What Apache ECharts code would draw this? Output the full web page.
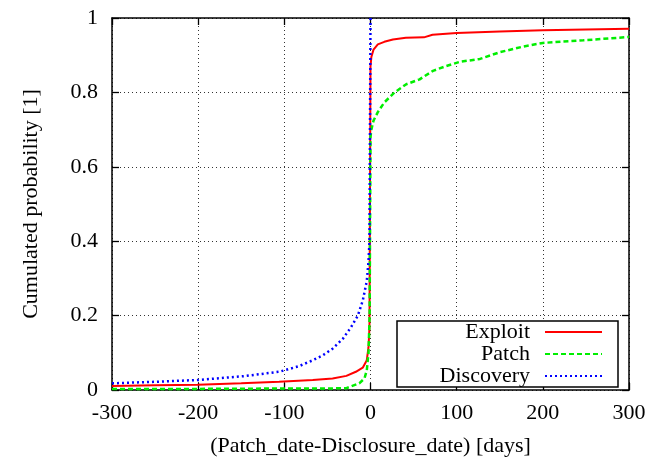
<!DOCTYPE html>
<html>
<head>
<meta charset="utf-8">
<script src="https://cdn.jsdelivr.net/npm/echarts@6/dist/echarts.min.js"></script>
<style>
html,body{margin:0;padding:0;background:#fff;}
#chart{width:650px;height:462px;}
</style>
</head>
<body>
<div id="chart"></div>
<script>
const xTicks = [-300, -200, -100, 0, 100, 200, 300];
const yTicks = [0, 0.2, 0.4, 0.6, 0.8, 1];

const exploitX = [-300,-250,-200,-150,-106,-67,-44,-28,-17,-9,-4.3,-2.3,-1.2,0,1,3.5,8.5,16,26,41,62,72,100,150,200,250,300];
const exploitY = [0.011,0.013,0.014,0.018,0.022,0.027,0.031,0.038,0.049,0.06,0.08,0.115,0.169,0.87,0.895,0.915,0.929,0.936,0.942,0.947,0.948,0.955,0.96,0.964,0.967,0.969,0.971];

const patchX = [-300,-200,-100,-50,-28,-13,-7,-4.3,-2.3,-1,0,1,3.5,8.5,16,28,41.5,57,72.5,88,103.5,127,150,177,200,247,300];
const patchY = [0.003,0.003,0.004,0.004,0.005,0.018,0.031,0.053,0.1,0.2,0.68,0.70,0.724,0.747,0.773,0.8,0.822,0.835,0.858,0.871,0.882,0.89,0.908,0.923,0.933,0.94,0.949];

const discX = [-300,-250,-200,-148,-106,-83,-67,-55.5,-44,-32,-22.5,-14.7,-9,-4.3,-2.3,-1.2,0];
const discY = [0.018,0.022,0.027,0.037,0.049,0.064,0.08,0.093,0.111,0.138,0.169,0.2,0.24,0.293,0.347,0.4,1.0];

const seriesNames = ['Exploit', 'Patch', 'Discovery'];
const xName = '(Patch_date-Disclosure_date) [days]';
const yName = 'Cumulated probability [1]';

function zip(xs, ys) { return xs.map((x, i) => [x, ys[i]]); }

const FONT = 'Liberation Serif';
const FS = 22;
const chart = echarts.init(document.getElementById('chart'), null, {renderer: 'canvas'});

const tickStyle = {show: true, inside: true, length: 7, lineStyle: {color: '#000', width: 1.3}};
const lineAx = {show: true, onZero: false, lineStyle: {color: '#000', width: 1.5}};

chart.setOption({
  animation: false,
  backgroundColor: '#fff',
  grid: {left: 112, right: 21, top: 18, bottom: 69, containLabel: false},
  xAxis: [{
    type: 'value', min: -300, max: 300, interval: 100, position: 'bottom',
    name: xName, nameLocation: 'middle', nameGap: 45,
    nameTextStyle: {fontFamily: FONT, fontSize: FS, color: '#000'},
    axisLine: lineAx, axisTick: tickStyle,
    axisLabel: {fontFamily: FONT, fontSize: FS, color: '#000', margin: 12,
      formatter: v => xTicks.includes(v) ? String(v) : ''},
    splitLine: {show: true, lineStyle: {color: '#333', width: 1, type: [1, 3]}}
  }, {
    type: 'value', min: -300, max: 300, interval: 100, position: 'top',
    axisLine: lineAx, axisTick: tickStyle, axisLabel: {show: false}, splitLine: {show: false}
  }],
  yAxis: [{
    type: 'value', min: 0, max: 1, interval: 0.2, position: 'left',
    name: yName, nameLocation: 'middle', nameGap: 70, nameRotate: 90,
    nameTextStyle: {fontFamily: FONT, fontSize: FS, color: '#000'},
    axisLine: lineAx, axisTick: tickStyle,
    axisLabel: {fontFamily: FONT, fontSize: FS, color: '#000', margin: 14,
      formatter: v => String(Math.round(v * 10) / 10)},
    splitLine: {show: true, lineStyle: {color: '#333', width: 1, type: [1, 3]}}
  }, {
    type: 'value', min: 0, max: 1, interval: 0.2, position: 'right',
    axisLine: lineAx, axisTick: tickStyle, axisLabel: {show: false}, splitLine: {show: false}
  }],
  legend: {
    orient: 'vertical', left: 397, top: 321, align: 'right',
    data: seriesNames,
    padding: [0, 15, 0, 15],
    itemGap: 0, itemWidth: 57, itemHeight: 14,
    itemStyle: {opacity: 0},
    borderColor: '#000', borderWidth: 1.5, backgroundColor: '#fff',
    textStyle: {fontFamily: FONT, fontSize: FS, color: '#000', width: 118, align: 'right',
      lineHeight: 22, padding: [0, 10, 0, 0]}
  },
  series: [{
    name: seriesNames[0], type: 'line', data: zip(exploitX, exploitY),
    showSymbol: false, symbol: 'none', z: 3,
    lineStyle: {color: '#ff0000', width: 2, type: 'solid'},
    itemStyle: {color: '#ff0000'}
  }, {
    name: seriesNames[1], type: 'line', data: zip(patchX, patchY),
    showSymbol: false, symbol: 'none', z: 4,
    lineStyle: {color: '#00ee00', width: 2.5, type: [5, 3]},
    itemStyle: {color: '#00ee00'}
  }, {
    name: seriesNames[2], type: 'line', data: zip(discX, discY),
    showSymbol: false, symbol: 'none', z: 5,
    lineStyle: {color: '#0000ff', width: 2.5, type: [2, 3]},
    itemStyle: {color: '#0000ff'}
  }]
});
</script>
</body>
</html>
